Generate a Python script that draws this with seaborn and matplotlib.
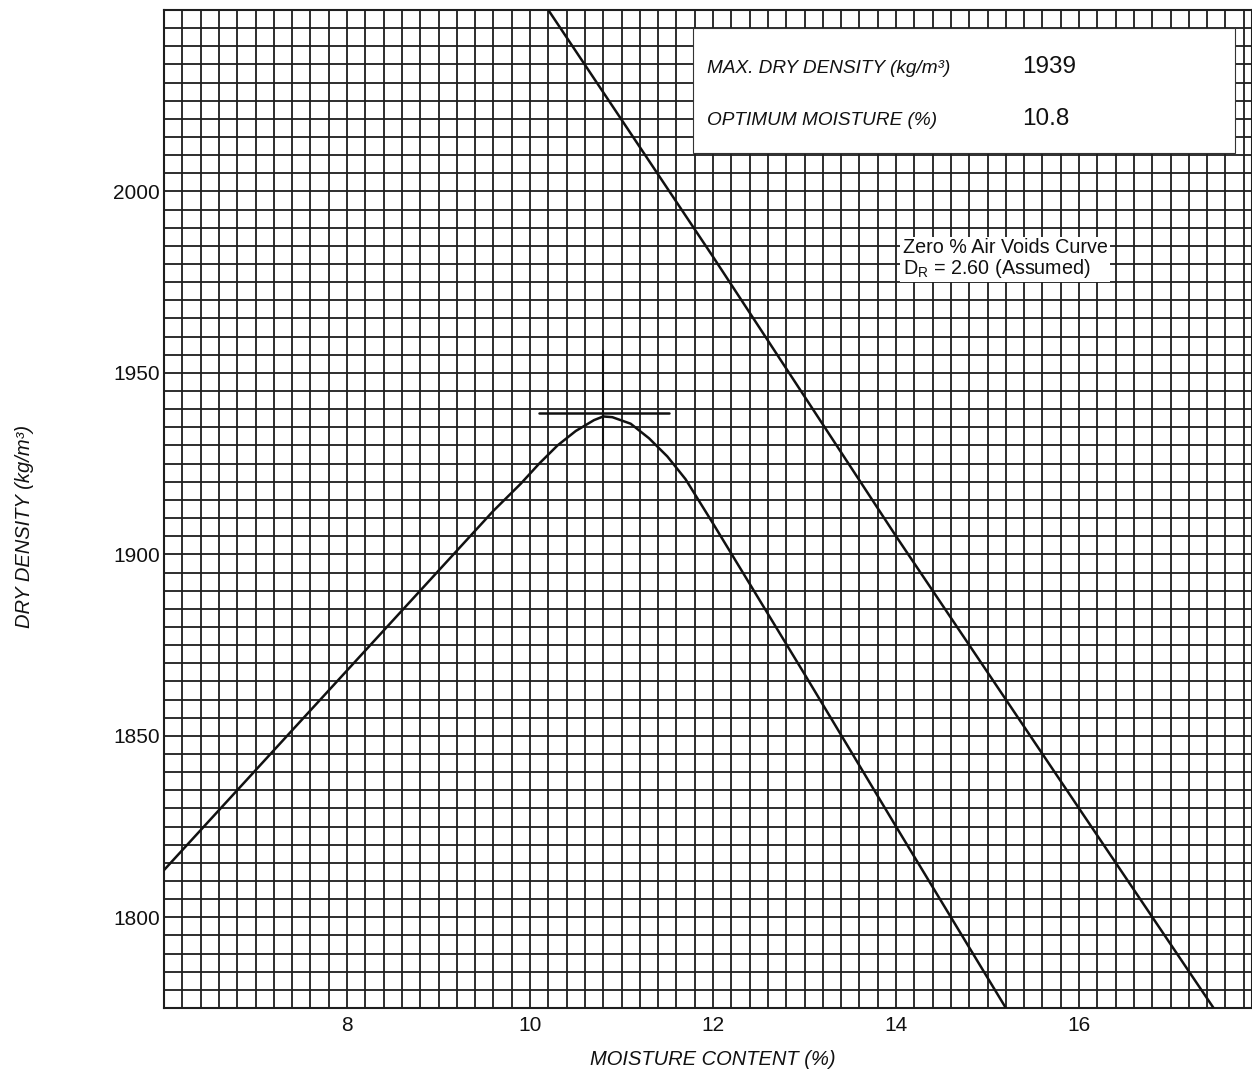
import numpy as np
import pandas as pd
import matplotlib
matplotlib.use("Agg")
import matplotlib.pyplot as plt
import seaborn as sns
from matplotlib.patches import Rectangle

# compaction curve
moisture = [6.0, 7.0, 8.0, 9.0, 9.6, 9.9, 10.1, 10.3, 10.5, 10.7, 10.8, 10.9, 11.1, 11.3, 11.5, 11.7, 12.0, 13.0, 14.0, 15.2]
density = [1813, 1840.5, 1868, 1895.5, 1912, 1919.5, 1925, 1930, 1934, 1937, 1938, 1937.8, 1936, 1932, 1927, 1920.7, 1908.5, 1867, 1825, 1775]

# zero air voids line
zav_moisture = [10.2, 12.0, 14.0, 16.0, 17.47]
zav_density = [2050, 1982, 1905, 1830, 1775]

max_dry_density = 1939
optimum_moisture = 10.8

x_ticks = [8, 10, 12, 14, 16]
y_ticks = [1800, 1850, 1900, 1950, 2000]

sns.set_style("white")
plt.rcParams["font.family"] = ["Liberation Sans", "DejaVu Sans"]
plt.rcParams["text.color"] = "#111111"
plt.rcParams["axes.labelcolor"] = "#111111"
plt.rcParams["xtick.color"] = "#111111"
plt.rcParams["ytick.color"] = "#111111"

fig = plt.figure(figsize=(12.52, 10.72), dpi=100)
ax = fig.add_axes([164 / 1252, 1 - 1008 / 1072, 1088 / 1252, 998 / 1072])

ax.set_xlim(6.0, 17.89)
ax.set_ylim(1775, 2050)

# graph paper grid
grid_col = "#1e1e1e"
for gx in np.arange(6.2, 17.9, 0.2):
    ax.axvline(gx, color=grid_col, lw=1.3, zorder=1)
for gy in np.arange(1780, 2050, 5):
    ax.axhline(gy, color=grid_col, lw=1.3, zorder=1)

df = pd.DataFrame({"moisture": moisture, "density": density})
zav = pd.DataFrame({"moisture": zav_moisture, "density": zav_density})
sns.lineplot(data=df, x="moisture", y="density", color="#111111", lw=1.8, sort=False, ax=ax, zorder=3)
sns.lineplot(data=zav, x="moisture", y="density", color="#111111", lw=1.8, sort=False, ax=ax, zorder=3)

# max density marker
ax.plot([10.1, 11.52], [max_dry_density, max_dry_density], color="#111111", lw=1.8, zorder=3)
ax.plot([optimum_moisture, optimum_moisture], [1929, 1956], color="#111111", lw=1.5, zorder=3)

ax.set_xticks(x_ticks)
ax.set_yticks(y_ticks)
ax.tick_params(axis="both", length=0, labelsize=15)
ax.tick_params(axis="y", pad=3)
ax.tick_params(axis="x", pad=6)
ax.set_xlabel("MOISTURE CONTENT (%)", fontsize=14.5, style="italic")
ax.set_ylabel("DRY DENSITY (kg/m³)", fontsize=14.5, style="italic")
ax.xaxis.set_label_coords(0.5046, -0.052)
ax.yaxis.set_label_coords(-0.128, 0.483)
ax.xaxis.label.set_va("center")
ax.yaxis.label.set_va("center")
for s in ax.spines.values():
    s.set_color(grid_col)
    s.set_linewidth(1.5)

# results box
ax.add_patch(Rectangle((0.486, 0.857), 0.498, 0.125, transform=ax.transAxes,
                       facecolor="white", edgecolor="#333333", lw=0.8, zorder=4))
ax.text(0.499, 0.941, "MAX. DRY DENSITY (kg/m³)", transform=ax.transAxes, fontsize=13.7,
        style="italic", va="center", zorder=5)
ax.text(0.789, 0.943, str(max_dry_density), transform=ax.transAxes, fontsize=17.5,
        va="center", zorder=5)
ax.text(0.499, 0.889, "OPTIMUM MOISTURE (%)", transform=ax.transAxes, fontsize=13.7,
        style="italic", va="center", zorder=5)
ax.text(0.789, 0.891, str(optimum_moisture), transform=ax.transAxes, fontsize=17.5,
        va="center", zorder=5)

ax.text(0.679, 0.751, "Zero % Air Voids Curve\nD$_\\mathregular{R}$ = 2.60 (Assumed)",
        transform=ax.transAxes, fontsize=14.2, va="center", linespacing=1.0, zorder=5,
        bbox=dict(facecolor="white", edgecolor="none", pad=2))

fig.savefig("out.png", dpi=100)
